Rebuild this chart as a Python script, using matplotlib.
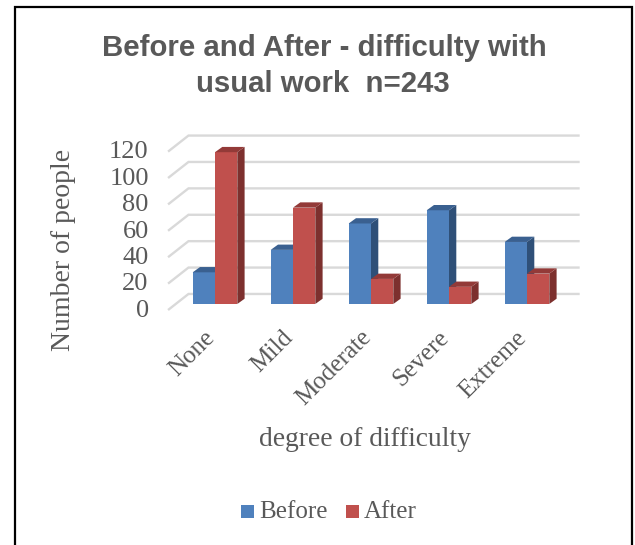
import matplotlib
matplotlib.use('Agg')
import matplotlib.pyplot as plt
from matplotlib.patches import Polygon, Rectangle

categories = ['None', 'Mild', 'Moderate', 'Severe', 'Extreme']
before = [24, 41, 61, 71, 47]
after = [115, 73, 19, 13, 23]
yticks = [0, 20, 40, 60, 80, 100, 120]

W, H = 635, 545
GREY = '#595959'
plt.rcParams['font.family'] = ['Liberation Serif', 'DejaVu Serif']

fig = plt.figure(figsize=(W / 100, H / 100), dpi=100)
# axes box in pixels, 78 px per category and 1.32 px per person
left, right, bottom, top = 150, 600, 320, 120
ax = fig.add_axes([left / W, 1 - bottom / H, (right - left) / W, (bottom - top) / H])
ax.set_xlim((left - 215) / 78, (right - 215) / 78)
ax.set_ylim((304 - bottom) / 1.32, (304 - top) / 1.32)
ax.axis('off')

half = 22.3 / 78
dx = 7.3 / 78
dy = 4.0

# gridlines, going back along the floor and then across the back wall
for v in yticks:
    ax.plot([-0.59, -0.34, 4.66], [v - 4, v + 7.6, v + 7.6], color='#d9d9d9', lw=1.7,
            solid_joinstyle='miter', zorder=1)
    ax.text(-0.85, v - 5.2, str(v), ha='right', va='center', fontsize=19, color=GREY)


def bar3d(x0, x1, h, front, side, roof, z):
    ax.add_patch(Rectangle((x0, 0), x1 - x0, h, fc=front, ec='none', zorder=z))
    ax.add_patch(Polygon([(x1, 0), (x1 + dx, dy), (x1 + dx, h + dy), (x1, h)], fc=side, ec='none', zorder=z))
    ax.add_patch(Polygon([(x0, h), (x0 + dx, h + dy), (x1 + dx, h + dy), (x1, h)], fc=roof, ec='none', zorder=z))


for i, (b, a) in enumerate(zip(before, after)):
    bar3d(i - half, i, b, '#4f81bd', '#2f5078', '#3a6090', 3 + i)
    bar3d(i, i + half, a, '#c0504d', '#7d302e', '#933a38', 4 + i)

for i, c in enumerate(categories):
    ax.text(i - 0.145, -17, c, rotation=45, rotation_mode='anchor', ha='right', va='top',
            fontsize=18, color=GREY, zorder=10)

fig.text(324 / W, 1 - 48 / H, 'Before and After - difficulty with', ha='center', va='center',
         fontsize=21.2, fontweight='bold', color=GREY, family='Liberation Sans')
fig.text(323 / W, 1 - 84 / H, 'usual work  n=243', ha='center', va='center',
         fontsize=21.2, fontweight='bold', color=GREY, family='Liberation Sans')
fig.text(64 / W, 1 - 250 / H, 'Number of people', rotation=90, ha='center', va='center',
         fontsize=20, color=GREY)
fig.text(365 / W, 1 - 439 / H, 'degree of difficulty', ha='center', va='center',
         fontsize=19.8, color=GREY)

# legend
for x0, col, name in [(241, '#4f81bd', 'Before'), (346, '#c0504d', 'After')]:
    fig.add_artist(Rectangle((x0 / W, 1 - 518 / H), 13 / W, 13 / H, fc=col, ec='none',
                             transform=fig.transFigure))
    fig.text((x0 + 18) / W, 1 - 512 / H, name, ha='left', va='center', fontsize=18, color=GREY)

# picture frame, open at the bottom
fig.add_artist(plt.Line2D([14.5 / W, 14.5 / W, 631.5 / W, 631.5 / W], [0, 1 - 7 / H, 1 - 7 / H, 0],
                          color='black', lw=1.6, solid_joinstyle='miter', transform=fig.transFigure))

fig.savefig('out.png', dpi=100)
